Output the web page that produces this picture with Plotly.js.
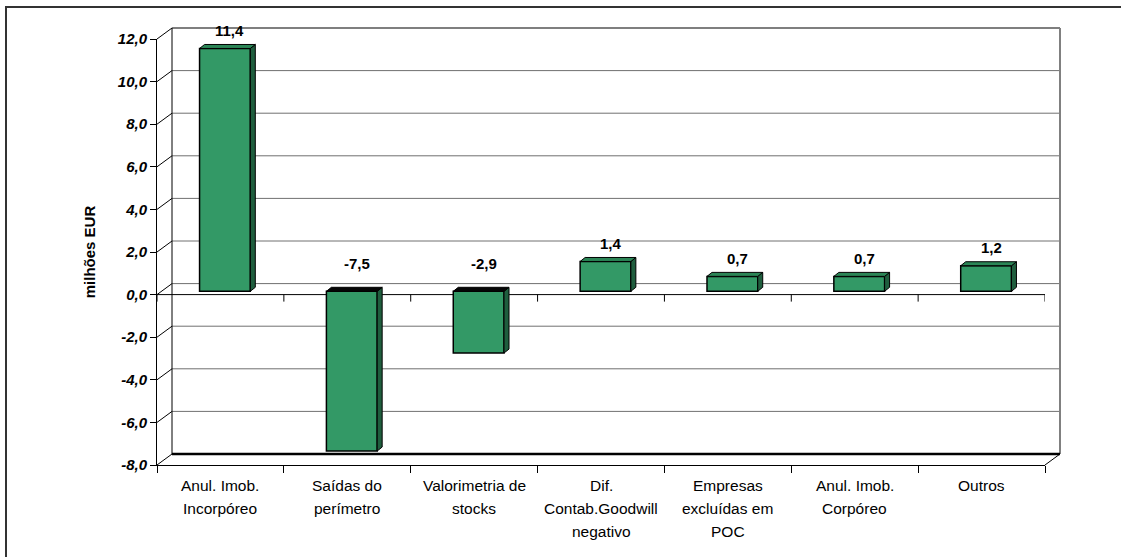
<!DOCTYPE html>
<html>
<head>
<meta charset="utf-8">
<script src="https://cdn.plot.ly/plotly-3.0.1.min.js"></script>
<style>
  html, body { margin: 0; padding: 0; background: #fff; }
  #chart { width: 1121px; height: 557px; }
</style>
</head>
<body>
<div id="chart"></div>
<script>
// Variações por rubrica (milhões EUR)
const categories = [
  'Anul. Imob. Incorpóreo', 'Saídas do perímetro', 'Valorimetria de stocks',
  'Dif. Contab.Goodwill negativo', 'Empresas excluídas em POC',
  'Anul. Imob. Corpóreo', 'Outros'
];
const categoryLines = [
  ['Anul. Imob.', 'Incorpóreo'],
  ['Saídas do', 'perímetro'],
  ['Valorimetria de', 'stocks'],
  ['Dif.', 'Contab.Goodwill', 'negativo'],
  ['Empresas', 'excluídas em', 'POC'],
  ['Anul. Imob.', 'Corpóreo'],
  ['Outros']
];
const values = [11.4, -7.5, -2.9, 1.4, 0.7, 0.7, 1.2];
const yTickValues = [-8, -6, -4, -2, 0, 2, 4, 6, 8, 10, 12];
const yTickLabels = ['-8,0', '-6,0', '-4,0', '-2,0', '0,0', '2,0', '4,0', '6,0', '8,0', '10,0', '12,0'];
const yTitle = 'milhões EUR';

// ---- geometry of the pseudo-3D box ----
const FONT = 'Arial, "Liberation Sans", sans-serif';
const W = 1121, H = 557;
const M = { l: 157, r: 61, t: 28, b: 92, pad: 0 };
const PW = W - M.l - M.r, PH = H - M.t - M.b;
const WALL_DX = 15, WALL_DY = 11;        // depth of the back wall
const BAR_OFF_X = 4.5, BAR_OFF_Y = 3.3;  // plane of the bar front faces
const BAR_DEPTH_X = 5, BAR_DEPTH_Y = 4;  // bar thickness
const BAR_WIDTH = 0.4;
const Y_MIN = -8, Y_MAX = 12;

const n = categories.length;
const idx = categories.map((_, i) => i);
const frontW = PW - WALL_DX, frontH = PH - WALL_DY;
const pxPerCat = frontW / n, pxPerUnit = frontH / (Y_MAX - Y_MIN);

const domBackX = [WALL_DX / PW, 1], domBackY = [WALL_DY / PH, 1];
const domFrontX = [0, frontW / PW], domFrontY = [0, frontH / PH];
const domBarX = [BAR_OFF_X / PW, (frontW + BAR_OFF_X) / PW];
const domBarY = [BAR_OFF_Y / PH, (frontH + BAR_OFF_Y) / PH];

const lerp = (d, v) => d[0] + (v - Y_MIN) / (Y_MAX - Y_MIN) * (d[1] - d[0]);
const frontPaperY = v => lerp(domFrontY, v);
const backPaperY = v => lerp(domBackY, v);

// ---- bar side and top faces, built from the values ----
const ux = BAR_DEPTH_X / pxPerCat, uy = BAR_DEPTH_Y / pxPerUnit;
const half = BAR_WIDTH / 2;
function polygons(list) {
  const x = [], y = [];
  list.forEach(p => {
    p.forEach(([a, b]) => { x.push(a); y.push(b); });
    x.push(null); y.push(null);
  });
  return { x, y };
}
const sideFaces = polygons(values.map((v, i) => {
  const xr = i + half;
  return [[xr, 0], [xr, v], [xr + ux, v + uy], [xr + ux, uy], [xr, 0]];
}));
function topFace(i, level) {
  const xl = i - half, xr = i + half;
  return [[xl, level], [xr, level], [xr + ux, level + uy], [xl + ux, level + uy], [xl, level]];
}
const topPositive = polygons(idx.filter(i => values[i] >= 0).map(i => topFace(i, values[i])));
const topNegative = polygons(idx.filter(i => values[i] < 0).map(i => topFace(i, 0)));

const faceStyle = { mode: 'lines', fill: 'toself', xaxis: 'x2', yaxis: 'y2',
  hoverinfo: 'skip', showlegend: false, line: { color: '#000', width: 1 } };

const traces = [
  {
    type: 'bar', x: idx, y: values, xaxis: 'x2', yaxis: 'y2',
    width: BAR_WIDTH, showlegend: false,
    marker: { color: '#339966', line: { color: '#000', width: 1.5 } },
    hovertemplate: '%{y}<extra></extra>'
  },
  Object.assign({ type: 'scatter', fillcolor: '#1f5e3e' }, faceStyle, sideFaces),
  Object.assign({ type: 'scatter', fillcolor: '#2b8556' }, faceStyle, topPositive),
  Object.assign({ type: 'scatter', fillcolor: '#050505' }, faceStyle, topNegative)
];

// ---- frame lines ----
const shapes = [];
const line = (x0, y0, x1, y1, color, width) =>
  shapes.push({ type: 'line', xref: 'paper', yref: 'paper', x0, y0, x1, y1,
    layer: 'below', line: { color, width } });

// outer chart border
shapes.push({ type: 'rect', xref: 'paper', yref: 'paper', layer: 'below',
  x0: (6 - M.l) / PW, x1: 1.5, y0: (H - M.b - 7) / PH, y1: -0.5,
  line: { color: '#333', width: 2 } });

// back wall gridlines
yTickValues.filter(v => v > Y_MIN && v < Y_MAX)
  .forEach(v => line(domBackX[0], backPaperY(v), 1, backPaperY(v), '#707070', 1));
// back wall edges and floor
line(domBackX[0], backPaperY(Y_MIN), domBackX[0], backPaperY(Y_MAX), '#000', 1);
line(domBackX[0], backPaperY(Y_MAX), 1, backPaperY(Y_MAX), '#000', 1.2);
line(1, backPaperY(Y_MIN), 1, backPaperY(Y_MAX), '#808080', 2);
line(domBackX[0], backPaperY(Y_MIN), 1, backPaperY(Y_MIN), '#000', 2.5);
line(domFrontX[1], frontPaperY(Y_MIN), 1, backPaperY(Y_MIN), '#000', 1);
// ticks carried back to the wall
yTickValues.forEach(v => line(0, frontPaperY(v), domBackX[0], backPaperY(v), '#000', 1));

// category axis along zero, with boundary ticks
const boundaries = idx.concat([n]).map(k => k - 0.5);
shapes.push({ type: 'line', xref: 'x', yref: 'y', layer: 'below',
  x0: -0.5, x1: n - 0.5, y0: 0, y1: 0, line: { color: '#000', width: 1 } });
boundaries.forEach(b => shapes.push({ type: 'line', xref: 'x', yref: 'y', layer: 'below',
  x0: b, x1: b, y0: 0, y1: -7 / pxPerUnit, line: { color: '#000', width: 1 } }));

// ---- text ----
const annotations = [];
values.forEach((v, i) => annotations.push({
  xref: 'x2', yref: 'y2', x: i + 5 / pxPerCat, y: Math.max(v, 0),
  yshift: v >= 0 ? 18 : 28, yanchor: 'middle', xanchor: 'center', showarrow: false,
  text: v.toFixed(1).replace('.', ','),
  font: { family: FONT, size: 15, weight: 'bold', color: '#000' }
}));
categoryLines.forEach((lines, i) => lines.forEach((txt, k) => annotations.push({
  xref: 'x', yref: 'y', x: i, y: Y_MIN, yshift: -(20 + 23 * k),
  yanchor: 'middle', xanchor: 'center', showarrow: false, text: txt,
  font: { family: FONT, size: 15.5, color: '#000' }
})));

const layout = {
  width: W, height: H, margin: M,
  paper_bgcolor: '#fff', plot_bgcolor: 'rgba(0,0,0,0)',
  showlegend: false, separators: ',.',
  font: { family: FONT, color: '#000' },
  bargap: 0,
  // front plane: value axis and category floor
  xaxis: { domain: domFrontX, range: [-0.5, n - 0.5], anchor: 'y',
    tickvals: boundaries, ticks: 'outside', ticklen: 7, tickwidth: 1, tickcolor: '#000',
    showticklabels: false, showline: true, linecolor: '#000', linewidth: 1,
    showgrid: false, zeroline: false, fixedrange: true },
  yaxis: { domain: domFrontY, range: [Y_MIN, Y_MAX], anchor: 'x',
    tickvals: yTickValues, ticktext: yTickLabels,
    ticks: 'outside', ticklen: 6, tickwidth: 1, tickcolor: '#000',
    showline: true, linecolor: '#000', linewidth: 1, showgrid: false, zeroline: false,
    tickfont: { family: FONT, size: 15, weight: 'bold', style: 'italic', color: '#000' },
    title: { text: yTitle, standoff: 18,
      font: { family: FONT, size: 15, weight: 'bold', color: '#000' } },
    fixedrange: true },
  // plane of the bars
  xaxis2: { domain: domBarX, range: [-0.5, n - 0.5], anchor: 'y2', visible: false },
  yaxis2: { domain: domBarY, range: [Y_MIN, Y_MAX], anchor: 'x2', visible: false },
  shapes, annotations
};

Plotly.newPlot('chart', traces, layout, { displayModeBar: false, staticPlot: true });
</script>
</body>
</html>
